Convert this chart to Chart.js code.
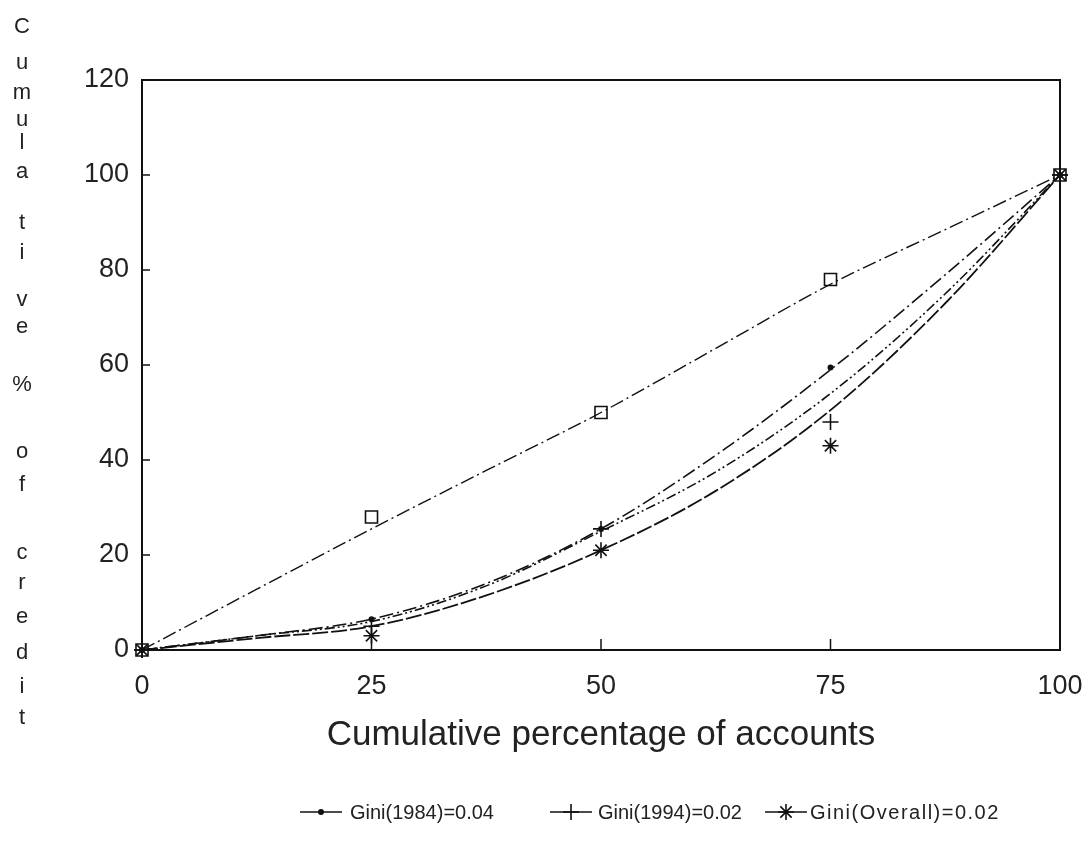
<!DOCTYPE html>
<html><head><meta charset="utf-8">
<script src="https://cdn.jsdelivr.net/npm/chart.js@4.4.1/dist/chart.umd.min.js"></script>
<style>html,body{margin:0;padding:0;background:#fff;} #wrap{position:relative;width:1088px;height:843px;}</style>
</head><body><div id="wrap"><canvas id="c" width="1088" height="843"></canvas></div>
<script>
// ---- data ----
const xTickValues = [0, 25, 50, 75, 100];
const yTickValues = [0, 20, 40, 60, 80, 100, 120];
const accounts = [0, 25, 50, 75, 100];
const equalPts = [0, 28, 50, 78, 100];
const gini1984 = [0, 6.5, 25.5, 59.5, 100];
const gini1994 = [0, 5, 25.5, 48, 100];
const giniOverall = [0, 3, 21, 43, 100];
const fitX = [0, 12.5, 25, 37.5, 50, 62.5, 75, 87.5, 100];
const fitEqual = [0, 12.8, 25.5, 37.8, 50, 63.5, 77, 88.5, 100];
const fit1984 = [0, 3, 6.5, 14, 25.5, 41, 59, 79, 100];
const fit1994 = [0, 3, 6, 13.5, 25, 37.5, 54, 75, 100];
const fitOverall = [0, 2.5, 5, 11.5, 21, 33.5, 50.5, 73, 100];
const legendLabels = ['Gini(1984)=0.04', 'Gini(1994)=0.02', 'Gini(Overall)=0.02'];
const xTitle = 'Cumulative percentage of accounts';
const yTitle = 'Cumulative % of credit';

const INK = '#111';
const FONT = "'Liberation Sans', Arial, sans-serif";
const pts = (xs, ys) => xs.map((x, i) => ({x, y: ys[i]}));

const markerBase = {showLine: false, borderColor: INK, backgroundColor: 'rgba(0,0,0,0)', borderWidth: 1.6, clip: false};
const lineBase = {showLine: true, pointRadius: 0, borderColor: INK, borderWidth: 1.6, cubicInterpolationMode: 'monotone', clip: false, fill: false};

const datasets = [
  {...lineBase, label: 'eq-fit', data: pts(fitX, fitEqual), borderDash: [14, 4, 2, 4], borderWidth: 1.4},
  {...lineBase, label: '1984-fit', data: pts(fitX, fit1984), borderDash: [14, 4, 2, 4]},
  {...lineBase, label: '1994-fit', data: pts(fitX, fit1994), borderDash: [10, 3, 2, 3, 2, 3]},
  {...lineBase, label: 'overall-fit', data: pts(fitX, fitOverall), borderDash: [16, 3], borderWidth: 1.8},
  {...markerBase, label: 'equal', data: pts(accounts, equalPts), pointStyle: 'rect', pointRadius: 8.5},
  {...markerBase, label: legendLabels[0], data: pts(accounts, gini1984), pointStyle: 'circle', pointRadius: 2.2, backgroundColor: INK},
  {...markerBase, label: legendLabels[1], data: pts(accounts, gini1994), pointStyle: 'cross', pointRadius: 8},
  {...markerBase, label: legendLabels[2], data: pts(accounts, giniOverall), pointStyle: 'star', pointRadius: 8},
];

// frame + inner ticks
const framePlugin = {
  id: 'frame',
  afterDatasetsDraw(chart) {
    const {ctx, chartArea: a, scales: {x, y}} = chart;
    ctx.save();
    ctx.strokeStyle = INK; ctx.lineWidth = 2;
    ctx.strokeRect(a.left, a.top, a.right - a.left, a.bottom - a.top);
    ctx.lineWidth = 1.5;
    ctx.beginPath();
    yTickValues.slice(1, -1).forEach(v => { const py = y.getPixelForValue(v); ctx.moveTo(a.left, py); ctx.lineTo(a.left + 8, py); });
    xTickValues.slice(1, -1).forEach(v => { const px = x.getPixelForValue(v); ctx.moveTo(px, a.bottom); ctx.lineTo(px, a.bottom - 11); });
    ctx.stroke();
    ctx.restore();
  }
};

// vertical stacked y-title
const yTitleRows = [27, 63, 93, 120, 143, 172, 223, 253, 300, 327, 385, 452, 485, 553, 583, 617, 653, 687, 718];
const yTitlePlugin = {
  id: 'ytitle',
  afterDraw(chart) {
    const ctx = chart.ctx;
    const letters = yTitle.replace(/ /g, '').split('');
    ctx.save();
    ctx.fillStyle = '#222'; ctx.font = '22px ' + FONT;
    ctx.textAlign = 'center'; ctx.textBaseline = 'middle';
    letters.forEach((ch, i) => ctx.fillText(ch, 22, yTitleRows[i]));
    ctx.restore();
  }
};

// legend drawn under the axis title
const legendPlugin = {
  id: 'lgnd',
  afterDraw(chart) {
    const ctx = chart.ctx;
    const items = [
      {ds: 5, x0: 300, text: 350, spacing: '0px'},
      {ds: 6, x0: 550, text: 598, spacing: '0px'},
      {ds: 7, x0: 765, text: 810, spacing: '1.5px'},
    ];
    const yy = 812;
    ctx.save();
    items.forEach((it, i) => {
      const ds = chart.data.datasets[it.ds];
      ctx.strokeStyle = INK; ctx.lineWidth = 1.6;
      ctx.beginPath(); ctx.moveTo(it.x0, yy); ctx.lineTo(it.x0 + 42, yy); ctx.stroke();
      ctx.fillStyle = INK;
      Chart.helpers.drawPoint(ctx, {pointStyle: ds.pointStyle, radius: ds.pointRadius, borderWidth: 1.6, rotation: 0}, it.x0 + 21, yy);
      ctx.fillStyle = '#222'; ctx.font = '20px ' + FONT;
      if ('letterSpacing' in ctx) ctx.letterSpacing = it.spacing;
      ctx.textAlign = 'left'; ctx.textBaseline = 'middle';
      ctx.fillText(legendLabels[i], it.text, yy + 1);
    });
    ctx.restore();
  }
};

new Chart(document.getElementById('c'), {
  type: 'scatter',
  data: {datasets},
  options: {
    responsive: false, animation: false,
    layout: {padding: {left: 0, right: 28, top: 80, bottom: 83}},
    plugins: {legend: {display: false}, tooltip: {enabled: false}},
    scales: {
      x: {
        type: 'linear', min: 0, max: 100,
        afterBuildTicks: s => { s.ticks = xTickValues.map(v => ({value: v})); },
        afterFit: s => { s.height = 110; s.paddingLeft = 0; s.paddingRight = 0; },
        grid: {display: false, drawTicks: false},
        border: {display: false},
        ticks: {color: '#222', font: {family: FONT, size: 27}, padding: 20, maxRotation: 0},
        title: {display: true, text: xTitle, color: '#222', font: {family: FONT, size: 35}, padding: {top: 0, bottom: 4}}
      },
      y: {
        type: 'linear', min: 0, max: 120,
        afterBuildTicks: s => { s.ticks = yTickValues.map(v => ({value: v})); },
        afterFit: s => { s.width = 142; s.paddingTop = 0; s.paddingBottom = 0; },
        grid: {display: false, drawTicks: false},
        border: {display: false},
        ticks: {color: '#222', font: {family: FONT, size: 27}, padding: 13}
      }
    }
  },
  plugins: [framePlugin, yTitlePlugin, legendPlugin]
});
</script></body></html>
